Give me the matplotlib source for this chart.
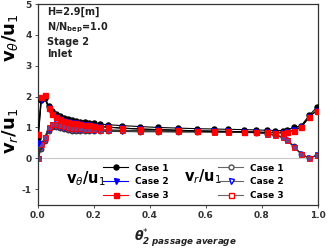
import matplotlib
matplotlib.use("Agg")
import matplotlib.pyplot as plt
from matplotlib.lines import Line2D

x = [0.0, 0.012, 0.025, 0.038, 0.05, 0.063, 0.078, 0.093, 0.107, 0.121, 0.137,
     0.152, 0.167, 0.182, 0.2, 0.22, 0.25, 0.30, 0.364, 0.43, 0.50, 0.57, 0.63,
     0.68, 0.735, 0.78, 0.817, 0.846, 0.874, 0.89, 0.914, 0.94, 0.97, 0.996]

vt_case1 = [0.65, 1.9, 1.95, 1.7, 1.55, 1.45, 1.38, 1.32, 1.28, 1.24, 1.21, 1.19,
            1.17, 1.15, 1.13, 1.11, 1.09, 1.06, 1.03, 1.0, 0.98, 0.96, 0.95,
            0.94, 0.93, 0.92, 0.91, 0.9, 0.9, 0.92, 1.0, 1.05, 1.4, 1.65]
vt_case2 = [0.5, 1.9, 1.95, 1.62, 1.45, 1.35, 1.27, 1.22, 1.18, 1.15, 1.13, 1.11,
            1.09, 1.07, 1.05, 1.03, 1.01, 0.98, 0.95, 0.93, 0.91, 0.89, 0.88,
            0.87, 0.86, 0.85, 0.84, 0.83, 0.83, 0.85, 0.92, 1.0, 1.35, 1.55]
vt_case3 = [0.8, 2.0, 2.05, 1.62, 1.45, 1.35, 1.27, 1.22, 1.18, 1.15, 1.13, 1.11,
            1.09, 1.07, 1.05, 1.03, 1.01, 0.98, 0.95, 0.93, 0.91, 0.89, 0.88,
            0.87, 0.86, 0.85, 0.84, 0.83, 0.83, 0.85, 0.9, 1.0, 1.35, 1.55]

vr_case1 = [0.0, 0.3, 0.55, 0.9, 1.0, 1.02, 0.98, 0.95, 0.92, 0.9, 0.9, 0.89,
            0.89, 0.88, 0.88, 0.88, 0.87, 0.87, 0.86, 0.86, 0.85, 0.85, 0.85,
            0.84, 0.84, 0.83, 0.8, 0.76, 0.7, 0.6, 0.4, 0.15, 0.0, 0.1]
vr_case2 = [0.0, 0.4, 0.65, 0.95, 1.08, 1.1, 1.06, 1.03, 1.0, 0.98, 0.97, 0.96,
            0.95, 0.94, 0.93, 0.92, 0.91, 0.9, 0.89, 0.88, 0.87, 0.87, 0.86,
            0.86, 0.85, 0.84, 0.8, 0.75, 0.68, 0.58, 0.38, 0.14, 0.0, 0.1]
vr_case3 = [0.0, 0.45, 0.7, 1.0, 1.1, 1.12, 1.08, 1.04, 1.01, 0.99, 0.98, 0.97,
            0.96, 0.95, 0.94, 0.93, 0.92, 0.91, 0.9, 0.89, 0.88, 0.87, 0.86,
            0.86, 0.85, 0.84, 0.8, 0.75, 0.68, 0.58, 0.38, 0.14, 0.0, 0.1]

case_labels = ["Case 1", "Case 2", "Case 3"]
xticks = [0.0, 0.2, 0.4, 0.6, 0.8, 1.0]
yticks = [-1, 0, 1, 2, 3, 4, 5]

plt.rcParams['mathtext.fontset'] = 'dejavusans'
fig = plt.figure(figsize=(3.27, 2.52), dpi=100)
ax = fig.add_axes([0.116, 0.188, 0.856, 0.796])

ax.axhline(0, color='#c8c8c8', lw=0.8, zorder=0)

ms = 3.6
filled_style = [('black', 'o'), ('blue', 'v'), ('red', 's')]
open_style = [('#505050', 'o'), ('blue', 'v'), ('red', 's')]

# v_r (open markers)
for y, (c, m) in zip([vr_case1, vr_case2, vr_case3], open_style):
    ax.plot(x, y, color='#333333', lw=0.8, marker=m, ms=ms, mfc='#7a3c8c',
            mec=c if c != '#505050' else '#222222', mew=0.6, zorder=2)
# v_theta (filled markers)
for y, (c, m) in zip([vt_case1, vt_case2, vt_case3], filled_style):
    ax.plot(x, y, color='black', lw=0.8, marker=m, ms=ms, mfc=c, mec=c, zorder=3)

ax.set_xlim(0, 1)
ax.set_ylim(-1.5, 5)
ax.set_xticks(xticks)
ax.set_xticklabels([f"{t:.1f}" for t in xticks])
ax.set_yticks(yticks)
ax.set_yticklabels([str(t) for t in yticks])
ax.tick_params(direction='out', length=2.5, width=0.6, labelsize=6.5,
               colors='#333333', pad=2)
for lab in ax.get_xticklabels() + ax.get_yticklabels():
    lab.set_fontweight('bold')
for sp in ax.spines.values():
    sp.set_color('#333333')
    sp.set_linewidth(0.9)

# info text
ax.text(0.032, 0.985, "H=2.9[m]\n$\\mathbf{N/N_{bep}}$=1.0\nStage 2\nInlet",
        transform=ax.transAxes, ha='left', va='top', fontsize=7,
        fontweight='bold', color='#222222', linespacing=1.3)

# y labels
fig.text(0.03, 0.85, r'$\mathbf{v}_{\theta}\mathbf{/u}_{1}$', rotation=90,
         ha='center', va='center', fontsize=13)
fig.text(0.03, 0.48, r'$\mathbf{v}_{r}\mathbf{/u}_{1}$', rotation=90,
         ha='center', va='center', fontsize=13)

# x label
fig.text(0.566, 0.056, r'$\mathbfit{\theta}^{*}_{\mathbfit{2\ passage\ average}}$',
         ha='center', va='center', fontsize=9, color='#222222')

# legends
h1 = [Line2D([], [], color=c, lw=0.8, marker=m, ms=ms, mfc=c, mec=c)
      for c, m in filled_style]
h2 = [Line2D([], [], color='#666666', lw=0.8, marker=m, ms=ms, mfc='white',
             mec=c) for c, m in open_style]
leg_kw = dict(loc='upper left', frameon=False, handlelength=2.8,
              handletextpad=0.75, labelspacing=0.55, borderaxespad=0,
              borderpad=0, prop={'weight': 'bold', 'size': 6.5})
leg1 = ax.legend(h1, case_labels, bbox_to_anchor=(0.232, 0.205), **leg_kw)
ax.add_artist(leg1)
leg2 = ax.legend(h2, case_labels, bbox_to_anchor=(0.643, 0.205), **leg_kw)

ax.text(0.17, 0.13, r'$\mathbf{v}_{\theta}\mathbf{/u}_{1}$', transform=ax.transAxes,
        ha='center', va='center', fontsize=10.5)
ax.text(0.59, 0.137, r'$\mathbf{v}_{r}\mathbf{/u}_{1}$', transform=ax.transAxes,
        ha='center', va='center', fontsize=10.5)

fig.savefig("out.png", dpi=100)
